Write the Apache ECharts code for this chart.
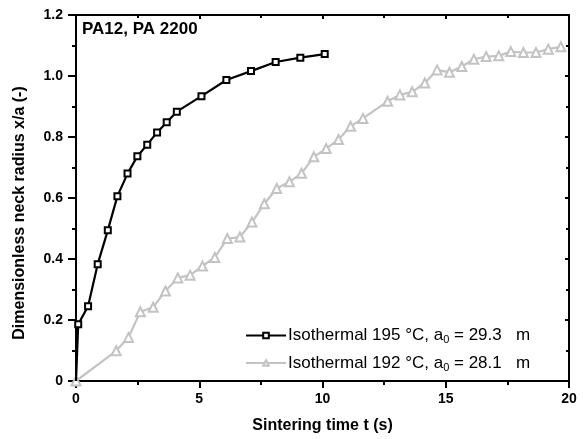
<!DOCTYPE html>
<html><head><meta charset="utf-8">
<script src="https://cdn.jsdelivr.net/npm/echarts@6/dist/echarts.min.js"></script>
<style>html,body{margin:0;padding:0;background:#fff}#c{width:583px;height:439px}</style>
</head><body><div id="c"></div>
<script>
const timeA = [0, 0.09, 0.49, 0.88, 1.29, 1.68, 2.09, 2.49, 2.89, 3.29, 3.68, 4.09, 5.09, 6.10, 7.10, 8.10, 9.10, 10.09];
const neckA = [0, 0.186, 0.245, 0.383, 0.494, 0.606, 0.680, 0.737, 0.775, 0.815, 0.848, 0.883, 0.934, 0.987, 1.016, 1.046, 1.060, 1.072];
const timeB = [0, 1.63, 2.13, 2.61, 3.13, 3.63, 4.13, 4.63, 5.13, 5.63, 6.14, 6.65, 7.14, 7.64, 8.14, 8.66, 9.15, 9.65, 10.15, 10.65, 11.14, 11.64, 12.64, 13.14, 13.64, 14.15, 14.65, 15.15, 15.65, 16.14, 16.64, 17.15, 17.64, 18.15, 18.66, 19.16, 19.67];
const neckB = [0, 0.099, 0.143, 0.227, 0.242, 0.295, 0.338, 0.347, 0.377, 0.405, 0.467, 0.472, 0.521, 0.581, 0.631, 0.653, 0.681, 0.735, 0.762, 0.792, 0.835, 0.861, 0.917, 0.938, 0.948, 0.977, 1.020, 1.012, 1.031, 1.055, 1.064, 1.066, 1.080, 1.077, 1.077, 1.088, 1.096];
const seriesNames = ['Isothermal 195 °C', 'Isothermal 192 °C'];
const legendA0 = ['29.3', '28.1'];
const xTitle = 'Sintering time t (s)';
const yTitle = 'Dimensionless neck radius x/a (-)';
const annotation = 'PA12, PA 2200';

const FONT = 'Liberation Sans, Arial, sans-serif';
const chart = echarts.init(document.getElementById('c'), null, {renderer: 'canvas'});
const grid = {left: 76, right: 14, top: 15, bottom: 57};
const axisLine = {show: true, onZero: false, lineStyle: {color: '#000', width: 2}};
const tickLbl = {color: '#000', fontFamily: FONT, fontWeight: 'bold', fontSize: 14};
function pairs(xs, ys, hideFirst) {
  return xs.map((x, i) => (i === 0 && hideFirst) ? {value: [x, ys[i]], symbol: 'none'} : [x, ys[i]]);
}
chart.setOption({
  animation: false,
  grid: grid,
  xAxis: [
    {type: 'value', min: 0, max: 20, interval: 5, position: 'bottom',
     axisLine: axisLine, splitLine: {show: false},
     axisTick: {show: true, inside: false, length: 7, lineStyle: {color: '#000', width: 2}},
     minorTick: {show: true, splitNumber: 2, length: 4, lineStyle: {color: '#000', width: 2}},
     axisLabel: Object.assign({margin: 11}, tickLbl),
     name: xTitle, nameLocation: 'middle', nameGap: 37,
     nameTextStyle: {color: '#000', fontFamily: FONT, fontWeight: 'bold', fontSize: 16}},
    {type: 'value', min: 0, max: 20, interval: 5, position: 'top',
     axisLine: axisLine, splitLine: {show: false},
     axisTick: {show: true, inside: true, length: 4, lineStyle: {color: '#000', width: 2}},
     minorTick: {show: true, splitNumber: 2, length: 3, lineStyle: {color: '#000', width: 2}},
     axisLabel: {show: false}}
  ],
  yAxis: [
    {type: 'value', min: 0, max: 1.2, interval: 0.2, position: 'left',
     axisLine: axisLine, splitLine: {show: false},
     axisTick: {show: true, inside: false, length: 8, lineStyle: {color: '#000', width: 2}},
     minorTick: {show: true, splitNumber: 2, length: 4, lineStyle: {color: '#000', width: 2}},
     axisLabel: Object.assign({margin: 13, formatter: v => v === 0 ? '0' : v.toFixed(1)}, tickLbl),
     name: yTitle, nameLocation: 'middle', nameGap: 48, nameRotate: 90,
     nameTextStyle: {color: '#000', fontFamily: FONT, fontWeight: 'bold', fontSize: 16, padding: [0, 30, 0, 0]}},
    {type: 'value', min: 0, max: 1.2, interval: 0.2, position: 'right',
     axisLine: axisLine, splitLine: {show: false},
     axisTick: {show: true, inside: true, length: 4, lineStyle: {color: '#000', width: 2}},
     minorTick: {show: true, splitNumber: 2, length: 3, lineStyle: {color: '#000', width: 2}},
     axisLabel: {show: false}}
  ],
  legend: {
    left: 240, top: 322, orient: 'vertical', itemGap: 9,
    itemWidth: 40, itemHeight: 7,
    data: seriesNames,
    formatter: name => {
      const i = seriesNames.indexOf(name);
      return name + ', a{sub|0} = ' + legendA0[i] + '   m';
    },
    textStyle: {color: '#000', fontFamily: FONT, fontSize: 17, padding: [0, 0, 0, -3],
      rich: {sub: {fontSize: 11, fontFamily: FONT, color: '#000', verticalAlign: 'bottom', padding: [9, 0, 0, 0]}}}
  },
  graphic: [{type: 'text', left: 82, top: 21,
    style: {text: annotation, fill: '#000', font: 'bold 17px ' + FONT}}],
  series: [
    {name: seriesNames[0], type: 'line', xAxisIndex: 0, yAxisIndex: 0,
     data: pairs(timeA, neckA, true),
     symbol: 'rect', symbolSize: 6,
     lineStyle: {color: '#000', width: 2.2},
     itemStyle: {color: '#fff', borderColor: '#000', borderWidth: 2}, z: 3},
    {name: seriesNames[1], type: 'line', xAxisIndex: 0, yAxisIndex: 0,
     data: pairs(timeB, neckB, false),
     symbol: 'triangle', symbolSize: 9,
     lineStyle: {color: '#c3c3c3', width: 2.2},
     itemStyle: {color: '#fff', borderColor: '#c3c3c3', borderWidth: 2}, z: 2}
  ]
});
</script></body></html>
